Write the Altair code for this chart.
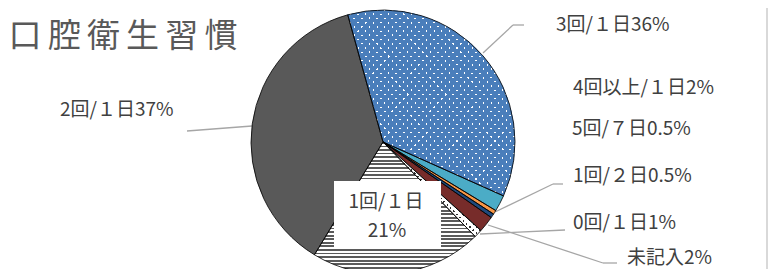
import math
import altair as alt
import pandas as pd

# ---------------- data ----------------
categories = ["3回/1日", "4回以上/1日", "5回/7日", "1回/2日", "未記入", "0回/1日", "1回/1日", "2回/1日"]
values = [36, 2, 0.5, 0.5, 2, 1, 21, 37]
slice_colors = ["#4A7EBB", "#4BACC6", "#F79646", "#1F497D", "#772C2A", "#FFFFFF", "#FFFFFF", "#595959"]
label_texts = ["3回/１日36%", "4回以上/１日2%", "5回/７日0.5%", "1回/２日0.5%", "0回/１日1%", "未記入2%", "2回/１日37%"]
inner_label_lines = ["1回/１日", "21%"]
title_chars = ["口", "腔", "衛", "生", "習", "慣"]

# ---------------- layout / style (chart pixel coordinates) ----------------
FONT = "Noto Sans CJK JP"
W, H = 760, 261
CX, CY, R = 375, 134, 132
START_DEG = -15.5
TITLE_X0, TITLE_PITCH, TITLE_BASELINE = 17, 39.2, 38.5
label_x = [548, 565, 564, 565, 565, 619, 52]
label_y = [17, 80, 121, 168, 215, 250, 102]
seg_x = [475, 505, 179, 487, 545, 472, 480, 595]
seg_y = [45, 17, 123, 204, 176, 226, 217, 255]
seg_x2 = [505, 516, 244, 545, 555, 557, 595, 609]
seg_y2 = [17, 17, 118, 176, 176, 222, 255, 255]

df = pd.DataFrame({
    "category": categories,
    "value": values,
    "order": list(range(len(categories))),
    "color": slice_colors,
})

start_rad = math.radians(START_DEG)
theta_scale = alt.Scale(domain=[0, 100], range=[start_rad, start_rad + 2 * math.pi])

base = alt.Chart(df).transform_window(
    cum="sum(value)", sort=[alt.SortField("order", order="ascending")], frame=[None, 0]
).transform_calculate(start="datum.cum - datum.value")


def arc_layer(cat=None, **mark_kwargs):
    ch = base
    if cat is not None:
        ch = ch.transform_filter(alt.datum.category == cat)
    return ch.mark_arc(outerRadius=R, **mark_kwargs).encode(
        theta=alt.Theta("start:Q", scale=theta_scale),
        theta2="cum:Q",
        x=alt.value(CX),
        y=alt.value(CY),
    )


def band_gradient(rgb, n, gap, x1, y1, x2, y2):
    r, g, b = rgb
    solid = f"rgb({r},{g},{b})"
    clear = f"rgba({r},{g},{b},0)"
    stops = []
    for i in range(n):
        a = i / n
        m = (i + 1 - gap) / n
        e = (i + 1) / n
        stops += [
            alt.GradientStop(color=solid, offset=a),
            alt.GradientStop(color=solid, offset=m),
            alt.GradientStop(color=clear, offset=m),
            alt.GradientStop(color=clear, offset=e),
        ]
    return alt.LinearGradient(gradient="linear", stops=stops, x1=x1, y1=y1, x2=x2, y2=y2)


def stripe_gradient(c1, c2, n):
    stops = []
    for i in range(n):
        a = i / n
        m = (i + 0.5) / n
        e = (i + 1) / n
        stops += [
            alt.GradientStop(color=c1, offset=a),
            alt.GradientStop(color=c1, offset=m),
            alt.GradientStop(color=c2, offset=m),
            alt.GradientStop(color=c2, offset=e),
        ]
    return alt.LinearGradient(gradient="linear", stops=stops, x1=0, y1=0, x2=0, y2=1)


solid = arc_layer().encode(fill=alt.Color("color:N", scale=None))

# dotted pattern for 3回/1日 (white dots on blue)
blue_white = arc_layer("3回/1日", fill="#FFFFFF")
blue_a = arc_layer("3回/1日", fill=band_gradient((74, 126, 187), 44, 0.26, 0, 0, 1, 1))
blue_b = arc_layer("3回/1日", fill=band_gradient((74, 126, 187), 44, 0.26, 0, 1, 1, 0))

# dotted pattern for 0回/1日 (dark dots on white)
mk_dark = arc_layer("0回/1日", fill="#303030")
mk_a = arc_layer("0回/1日", fill=band_gradient((255, 255, 255), 30, 0.35, 0, 0, 1, 1))
mk_b = arc_layer("0回/1日", fill=band_gradient((255, 255, 255), 30, 0.35, 0, 1, 1, 0))

# horizontal stripes for 1回/1日
stripes = arc_layer("1回/1日", fill=stripe_gradient("#5A5A5A", "#FFFFFF", 37))

outline = arc_layer(fillOpacity=0, stroke="#000000", strokeWidth=0.8)

seg_df = pd.DataFrame({"x": seg_x, "y": seg_y, "x2": seg_x2, "y2": seg_y2})
leaders = alt.Chart(seg_df).mark_rule(color="#A6A6A6", strokeWidth=1.3).encode(
    x=alt.X("x:Q", scale=None, axis=None),
    y=alt.Y("y:Q", scale=None, axis=None),
    x2="x2:Q",
    y2="y2:Q",
)

lab_df = pd.DataFrame({"text": label_texts, "x": label_x, "y": label_y})
labels = alt.Chart(lab_df).mark_text(
    align="left", baseline="middle", font=FONT, fontSize=19, color="#404040"
).encode(
    x=alt.X("x:Q", scale=None, axis=None),
    y=alt.Y("y:Q", scale=None, axis=None),
    text="text:N",
)

dummy = pd.DataFrame({"d": [0]})
box = alt.Chart(dummy).mark_rect(fill="#FFFFFF").encode(
    x=alt.value(326), x2=alt.value(433), y=alt.value(173), y2=alt.value(241)
)
inner_df = pd.DataFrame({"text": inner_label_lines, "x": [378, 379], "y": [194, 223]})
inner_labels = alt.Chart(inner_df).mark_text(
    align="center", baseline="middle", font=FONT, fontSize=19, color="#404040"
).encode(
    x=alt.X("x:Q", scale=None, axis=None),
    y=alt.Y("y:Q", scale=None, axis=None),
    text="text:N",
)

title_df = pd.DataFrame({"ch": title_chars, "idx": list(range(len(title_chars)))})
title = alt.Chart(title_df).transform_calculate(
    px=f"{TITLE_X0} + datum.idx * {TITLE_PITCH}"
).mark_text(
    align="center", baseline="alphabetic", font=FONT, fontSize=33, color="#595959"
).encode(
    x=alt.X("px:Q", scale=None, axis=None),
    y=alt.value(TITLE_BASELINE),
    text="ch:N",
)

border = alt.Chart(dummy).mark_rule(color="#D9D9D9", strokeWidth=2).encode(
    x=alt.value(759), y=alt.value(0), y2=alt.value(H)
)

chart = alt.layer(
    leaders, solid, blue_white, blue_a, blue_b, mk_dark, mk_a, mk_b, stripes, outline,
    box, inner_labels, labels, title, border,
).properties(
    width=W, height=H, padding=0, autosize=alt.AutoSizeParams(type="none")
).configure_view(stroke=None)

chart.save("out.html", embed_options={"renderer": "svg", "actions": False})
